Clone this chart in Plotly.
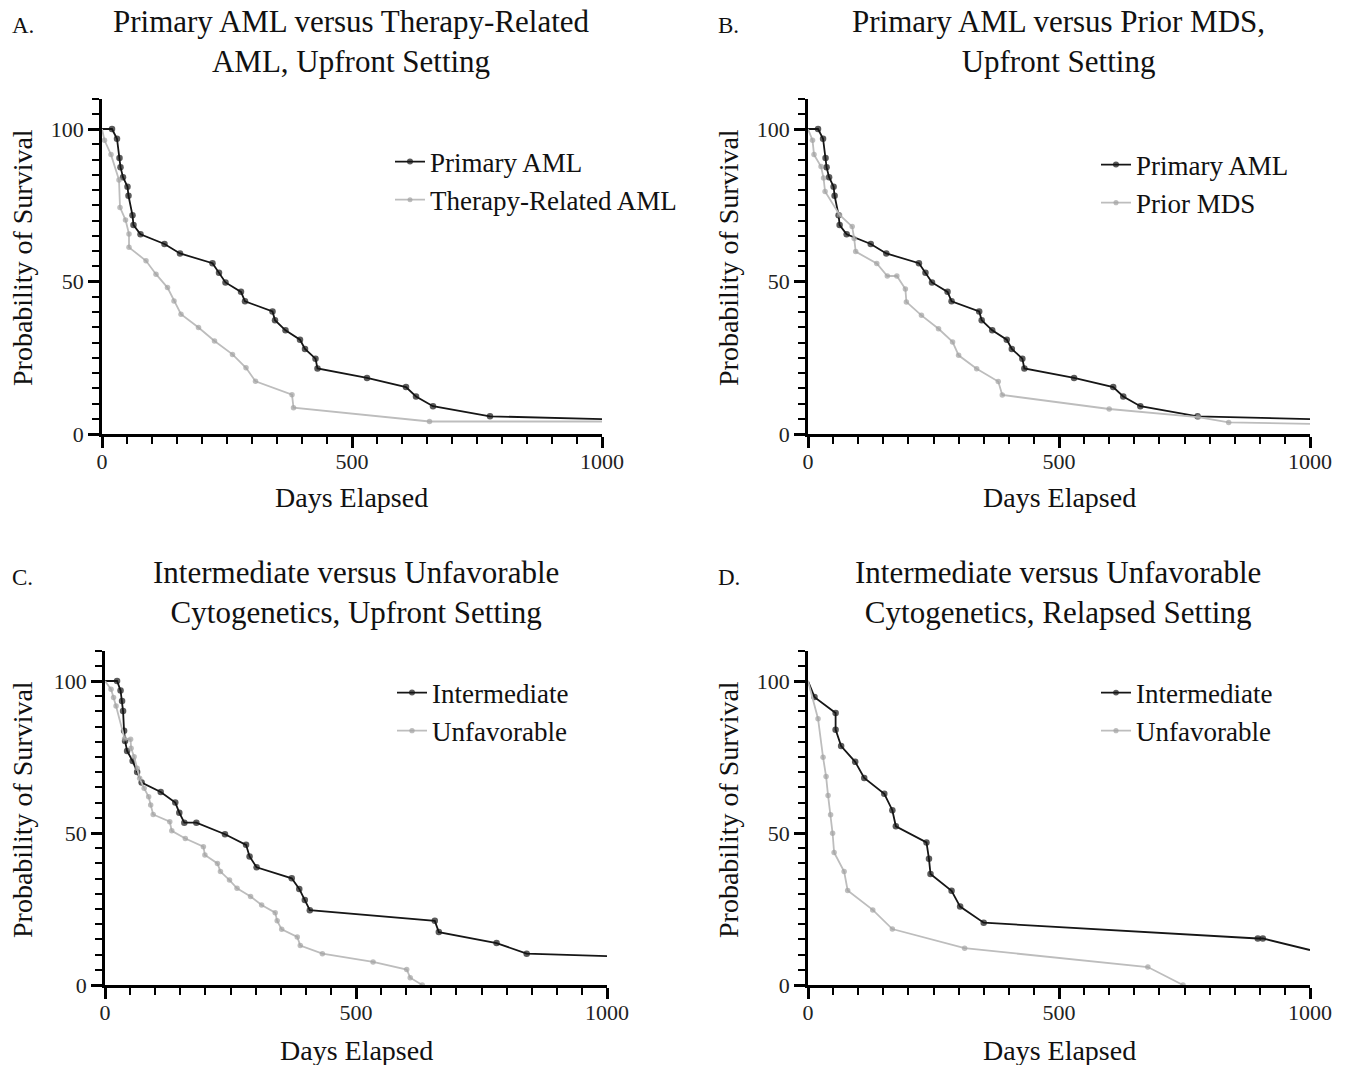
import plotly.graph_objects as go

# ---------------- data ----------------
# Panel A: Primary AML vs Therapy-Related AML (upfront)
a_primary_days = [0, 20, 30, 35, 37, 42, 51, 53, 61, 63, 77, 125, 156, 221, 234, 247, 278, 286, 341, 346,
                  367, 396, 406, 427, 431, 530, 608, 628, 662, 776, 1000]
a_primary_surv = [100, 100, 96.8, 90.5, 87.5, 84.2, 81.1, 78.1, 71.7, 68.5, 65.5, 62.3, 59.2, 56.0, 52.9, 49.7,
                  46.6, 43.5, 40.2, 37.3, 34.0, 30.9, 27.9, 24.7, 21.5, 18.4, 15.4, 12.3, 9.1, 5.8, 4.9]
a_trel_days = [0, 5, 18, 34, 36, 47, 54, 54, 88, 108, 131, 144, 158, 193, 225, 261, 288, 307, 380, 383, 655, 1000]
a_trel_surv = [100, 96.3, 91.6, 83.3, 74.3, 70.2, 65.6, 61.2, 56.8, 52.4, 48.0, 43.6, 39.3, 34.9, 30.5, 26.1,
               21.7, 17.3, 12.9, 8.6, 4.1, 4.1]

# Panel B: Primary AML vs Prior MDS (upfront)
b_primary_days = a_primary_days
b_primary_surv = a_primary_surv
b_mds_days = [0, 9, 12, 26, 31, 34, 63, 88, 92, 95, 137, 158, 177, 194, 196, 226, 260, 288, 300, 336, 379, 387,
              600, 777, 838, 1000]
b_mds_surv = [100, 96.3, 91.6, 87.7, 83.9, 79.5, 71.8, 68.0, 64.1, 59.8, 55.9, 51.8, 51.8, 47.5, 43.3, 38.9,
              34.5, 30.2, 25.8, 21.4, 17.2, 12.8, 8.2, 5.5, 3.8, 3.3]

# Panel C: Intermediate vs Unfavorable cytogenetics (upfront)
c_int_days = [0, 24, 31, 34, 36, 38, 40, 44, 55, 64, 73, 111, 140, 148, 158, 182, 239, 281, 288, 302, 372, 387,
              398, 408, 657, 665, 780, 840, 1000]
c_int_surv = [100, 100, 96.9, 93.4, 90.1, 83.6, 80.3, 77.0, 73.7, 70.1, 66.6, 63.5, 60.0, 56.7, 53.4, 53.4, 49.6,
              46.1, 42.3, 38.7, 35.1, 31.6, 28.0, 24.6, 21.1, 17.4, 13.8, 10.3, 9.5]
c_unf_days = [0, 12, 17, 22, 39, 51, 52, 58, 64, 69, 78, 87, 91, 96, 129, 133, 160, 196, 199, 224, 230, 248, 263,
              290, 312, 339, 343, 352, 383, 389, 433, 534, 601, 608, 632]
c_unf_surv = [100, 97.3, 94.6, 91.8, 81.0, 80.8, 77.9, 75.1, 71.3, 68.0, 64.7, 61.9, 59.2, 56.1, 53.7, 50.7, 48.2,
              45.5, 42.8, 40.0, 37.3, 34.5, 31.8, 29.1, 26.3, 23.8, 21.1, 18.3, 15.8, 13.0, 10.3, 7.6, 5.1, 2.4, 0]

# Panel D: Intermediate vs Unfavorable cytogenetics (relapsed)
d_int_days = [0, 13, 55, 55, 66, 94, 112, 152, 168, 175, 236, 241, 244, 286, 303, 350, 896, 906, 1000]
d_int_surv = [100, 94.7, 89.5, 84.0, 78.6, 73.4, 68.1, 62.9, 57.5, 52.2, 46.9, 41.5, 36.5, 31.0, 25.8, 20.5,
              15.3, 15.3, 11.5]
d_unf_days = [0, 20, 30, 36, 40, 45, 49, 52, 72, 79, 129, 168, 312, 677, 747]
d_unf_surv = [100, 87.6, 74.9, 68.6, 62.3, 56.0, 49.9, 43.6, 37.3, 31.1, 24.7, 18.4, 12.1, 5.9, 0]

panels = [
    dict(key="A", title="Primary AML versus Therapy-Related<br>AML, Upfront Setting",
         s1=("Primary AML", a_primary_days, a_primary_surv), s2=("Therapy-Related AML", a_trel_days, a_trel_surv)),
    dict(key="B", title="Primary AML versus Prior MDS,<br>Upfront Setting",
         s1=("Primary AML", b_primary_days, b_primary_surv), s2=("Prior MDS", b_mds_days, b_mds_surv)),
    dict(key="C", title="Intermediate versus Unfavorable<br>Cytogenetics, Upfront Setting",
         s1=("Intermediate", c_int_days, c_int_surv), s2=("Unfavorable", c_unf_days, c_unf_surv)),
    dict(key="D", title="Intermediate versus Unfavorable<br>Cytogenetics, Relapsed Setting",
         s1=("Intermediate", d_int_days, d_int_surv), s2=("Unfavorable", d_unf_days, d_unf_surv)),
]

# ---------------- layout geometry (pixels) ----------------
W, H = 1351, 1065
FONT = "Liberation Serif, Times New Roman, serif"
geo = {
    "A": dict(x0=102, x1=602, y0=434, y1=98.5, cx=352, ty=41, lx=10, ly=25, xt=497, yt=(22, 258), leg=(390, 181)),
    "B": dict(x0=808, x1=1310, y0=434, y1=98.5, cx=1058, ty=41, lx=716, ly=25, xt=497, yt=(728, 258), leg=(1096, 184)),
    "C": dict(x0=105, x1=607, y0=985, y1=650.6, cx=356, ty=592, lx=10, ly=577, xt=1050, yt=(22, 810), leg=(392, 712)),
    "D": dict(x0=808, x1=1310, y0=985, y1=650.6, cx=1058, ty=592, lx=716, ly=577, xt=1050, yt=(728, 810), leg=(1096, 712)),
}

BLACK = "#161616"
GRAY_LINE = "#bdbdbd"
GRAY_MK = "#a3a3a3"
TXT = "#111111"

fig = go.Figure()
layout = dict(width=W, height=H, margin=dict(l=0, r=0, t=0, b=0),
              paper_bgcolor="white", plot_bgcolor="white", showlegend=True,
              font=dict(family=FONT, color=TXT))
annotations = []

for i, p in enumerate(panels):
    g = geo[p["key"]]
    n = "" if i == 0 else str(i + 1)
    xa, ya = "x" + n, "y" + n
    legname = "legend" + n

    for (name, xs, ys), col, mcol, lw, ms in [(p["s1"], BLACK, BLACK, 1.8, 6.5), (p["s2"], GRAY_LINE, GRAY_MK, 1.8, 5.5)]:
        sizes = [ms] * len(xs)
        sizes[0] = 0
        if xs[-1] >= 1000:
            sizes[-1] = 0
        fig.add_trace(go.Scatter(
            x=xs, y=ys, name=name, mode="lines+markers", xaxis=xa, yaxis=ya, legend=legname,
            line=dict(color=col, width=lw),
            marker=dict(color=mcol, size=sizes, line=dict(width=0)),
            cliponaxis=False,
        ))

    layout["xaxis" + n] = dict(
        domain=[g["x0"] / W, g["x1"] / W], range=[0, 1000], anchor=ya,
        showline=True, linecolor="black", linewidth=2.5, showgrid=False, zeroline=False,
        tickvals=[0, 500, 1000], ticktext=["0", "500", "1000"], ticks="outside", ticklen=11, tickwidth=2.5,
        tickcolor="black", tickfont=dict(family=FONT, size=22, color="#222"), ticklabelstandoff=-5,
        minor=dict(dtick=50, tick0=0, ticks="outside", ticklen=7, tickwidth=2, tickcolor="black", showgrid=False),
        automargin=False, fixedrange=True,
    )
    layout["yaxis" + n] = dict(
        domain=[1 - g["y0"] / H, 1 - g["y1"] / H], range=[0, 110], anchor=xa,
        showline=True, linecolor="black", linewidth=2.5, showgrid=False, zeroline=False,
        tickvals=[0, 50, 100], ticks="outside", ticklen=11, tickwidth=2.5, tickcolor="black",
        tickfont=dict(family=FONT, size=22, color="#222"),
        minor=dict(dtick=5, tick0=0, ticks="outside", ticklen=7, tickwidth=2, tickcolor="black", showgrid=False),
        automargin=False, fixedrange=True,
    )
    layout[legname] = dict(
        x=g["leg"][0] / W, y=1 - g["leg"][1] / H, xanchor="left", yanchor="middle",
        bgcolor="rgba(0,0,0,0)", font=dict(family=FONT, size=27, color=TXT),
        tracegroupgap=0, itemwidth=30, traceorder="normal",
    )

    annotations.append(dict(text=p["title"], x=g["cx"] / W, y=1 - g["ty"] / H, xref="paper", yref="paper",
                            xanchor="center", yanchor="middle", showarrow=False,
                            font=dict(family=FONT, size=31, color=TXT)))
    annotations.append(dict(text=p["key"] + ".", x=g["lx"] / W, y=1 - g["ly"] / H, xref="paper", yref="paper",
                            xanchor="left", yanchor="middle", showarrow=False,
                            font=dict(family=FONT, size=23, color=TXT)))
    annotations.append(dict(text="Days Elapsed", x=(g["x0"] + g["x1"]) / 2 / W, y=1 - g["xt"] / H,
                            xref="paper", yref="paper", xanchor="center", yanchor="middle", showarrow=False,
                            font=dict(family=FONT, size=28, color=TXT)))
    annotations.append(dict(text="Probability of Survival", x=g["yt"][0] / W, y=1 - g["yt"][1] / H,
                            xref="paper", yref="paper", xanchor="center", yanchor="middle", showarrow=False,
                            textangle=-90, font=dict(family=FONT, size=28, color=TXT)))

layout["annotations"] = annotations
fig.update_layout(**layout)
fig.write_html("out.html", config={"displayModeBar": False},
               post_script="document.body.style.margin='0';document.body.style.overflow='hidden';")
